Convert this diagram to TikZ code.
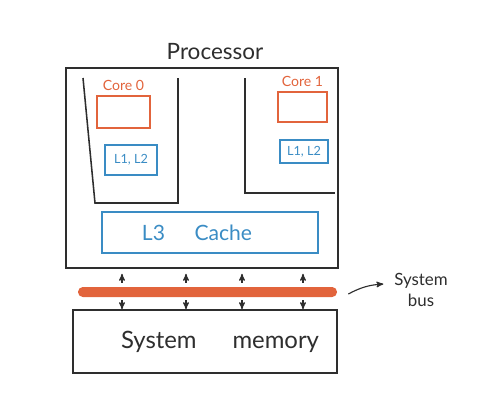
\documentclass[tikz,border=0pt]{standalone}
\usepackage{fontspec}
\setmainfont{Lato}
\usetikzlibrary{arrows}
\usetikzlibrary{calc}
\usetikzlibrary{fit}
\usetikzlibrary{positioning}

\definecolor{coreorange}{HTML}{E2643C}
\definecolor{cacheblue}{HTML}{3A8CC4}
\definecolor{pen}{HTML}{2E2E2E}

\tikzset{
  box/.style={draw=pen,rectangle,line width=1.1pt,inner sep=0pt},
  corebox/.style={draw=coreorange,rectangle,line width=1.1pt,inner sep=0pt},
  cachebox/.style={draw=cacheblue,rectangle,line width=1.1pt,inner sep=0pt},
  wall/.style={draw=pen,line width=1.1pt},
  busarrow/.style={draw=pen,line width=0.8pt,->,>=stealth'}
}

\begin{document}
\begin{tikzpicture}[x=0.025cm,y=-0.025cm]

  \useasboundingbox (0,0) rectangle (480,416);

  \node [box,fit={(66,68) (338,268)}] (proc) {};
  \node [text=pen,font=\fontsize{16}{18}\selectfont] (proclab) at (215,52) {Processor};

  % the two cores
  \path [wall] (83,78) -- (95,203) -- (178,203) -- (178,78);
  \path [wall] (245,78) -- (245,193) -- (335,193);

  \node [corebox,fit={(97,96) (150,128)},label={[font=\fontsize{10}{12}\selectfont,text=coreorange]above:Core 0}] (core0) {};
  \node [corebox,fit={(278,92) (327,122)},label={[font=\fontsize{10}{12}\selectfont,text=coreorange]above:Core 1}] (core1) {};

  \node [cachebox,fit={(105,145) (157,175)}] (l12a) {};
  \node [text=cacheblue,font=\fontsize{9}{11}\selectfont] at (l12a) {L1, L2};
  \node [cachebox,fit={(280,140) (328,163)}] (l12b) {};
  \node [text=cacheblue,font=\fontsize{9}{11}\selectfont] at (l12b) {L1, L2};

  \node [cachebox,fit={(102,212) (318,253)}] (l3) {};
  \node [text=cacheblue,font=\fontsize{15}{17}\selectfont] (l3lab) at (197,233) {L3\hspace{1.4em}Cache};

  % bus and memory
  \node [fill=coreorange,rectangle,rounded corners=0.12cm,inner sep=0pt,fit={(78,287) (337,297)}] (bus) {};

  \node [box,fit={(73,310) (337,373)}] (mem) {};
  \node [text=pen,font=\fontsize{17}{20}\selectfont] (memlab) at (220,342) {System\hspace{1.5em}memory};

  \node [text=pen,align=center,font=\fontsize{12}{15}\selectfont] (sysbus) at (421,290) {System\\bus};

  \coordinate (a1) at (122,0);
  \coordinate (a2) at (186,0);
  \coordinate (a3) at (242,0);
  \coordinate (a4) at (303,0);

  \path [shorten <=0.1cm,shorten >=0.125cm]
    (bus.north -| a1) edge [busarrow] (proc.south -| a1)
    (bus.north -| a2) edge [busarrow] (proc.south -| a2)
    (bus.north -| a3) edge [busarrow] (proc.south -| a3)
    (bus.north -| a4) edge [busarrow] (proc.south -| a4);

  \path [shorten <=0.07cm]
    (bus.south -| a1) edge [busarrow] (mem.north -| a1)
    (bus.south -| a2) edge [busarrow] (mem.north -| a2)
    (bus.south -| a3) edge [busarrow] (mem.north -| a3)
    (bus.south -| a4) edge [busarrow] (mem.north -| a4);

  \coordinate (busout) at ($(bus.east)+(11,2)$);
  \coordinate (busin) at ($(sysbus.west)+(-6,-6)$);
  \draw [busarrow] (busout) to [bend left=12] (busin);

\end{tikzpicture}
\end{document}
